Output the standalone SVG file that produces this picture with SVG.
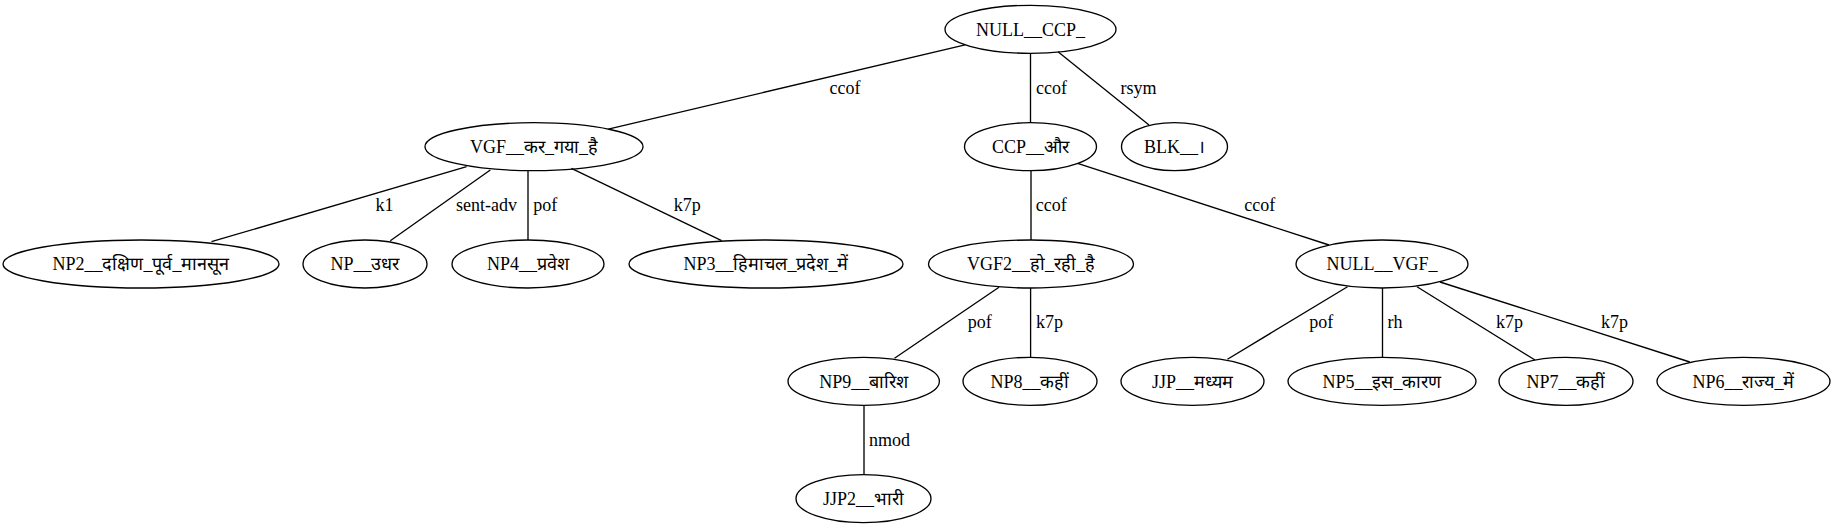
<svg xmlns="http://www.w3.org/2000/svg" width="1835" height="528" viewBox="0 0 1835 528">
<style>
  .node ellipse { fill: none; stroke: #000; stroke-width: 1.33; }
  text { font-family: "Liberation Serif", "DejaVu Serif", "Times New Roman", serif; font-size: 18px; text-anchor: middle; fill: #000; }
  .edges line { stroke: #000; stroke-width: 1.33; }
</style>
<rect width="1835" height="528" fill="#fff"/>
<g id="connectors" class="edges">
  <line x1="965.1" y1="44.8" x2="608.3" y2="129.1"/>
  <text x="845" y="94">ccof</text>
  <line x1="1030.5" y1="53.3" x2="1030.5" y2="122.7"/>
  <text x="1051.5" y="94">ccof</text>
  <line x1="1058" y1="51.7" x2="1149" y2="125"/>
  <text x="1138.5" y="94">rsym</text>
  <line x1="466.6" y1="166.7" x2="211.5" y2="241.7"/>
  <text x="384.5" y="211">k1</text>
  <line x1="490.3" y1="170" x2="390.3" y2="240.7"/>
  <text x="486.4" y="211">sent-adv</text>
  <line x1="528" y1="170.7" x2="528" y2="240"/>
  <text x="545.3" y="211">pof</text>
  <line x1="571.4" y1="168.3" x2="721.6" y2="240.7"/>
  <text x="687.3" y="211">k7p</text>
  <line x1="1031" y1="170.7" x2="1031" y2="240"/>
  <text x="1051.3" y="211">ccof</text>
  <line x1="1077.6" y1="163.3" x2="1329" y2="245"/>
  <text x="1259.7" y="211">ccof</text>
  <line x1="999" y1="287.3" x2="894.5" y2="358.3"/>
  <text x="979.8" y="328">pof</text>
  <line x1="1030.6" y1="288" x2="1030.6" y2="357.3"/>
  <text x="1049.4" y="328">k7p</text>
  <line x1="1347.5" y1="286.7" x2="1227.5" y2="359.3"/>
  <text x="1321.3" y="328">pof</text>
  <line x1="1382.5" y1="288" x2="1382.5" y2="357.3"/>
  <text x="1395" y="328">rh</text>
  <line x1="1417" y1="286.7" x2="1535" y2="360"/>
  <text x="1509.5" y="328">k7p</text>
  <line x1="1440" y1="282" x2="1689.8" y2="362"/>
  <text x="1614.4" y="328">k7p</text>
  <line x1="864" y1="405.3" x2="864" y2="474.7"/>
  <text x="889.6" y="446">nmod</text>
</g>
<g id="n_null_ccp" class="node"><ellipse cx="1030.5" cy="29.3" rx="85.5" ry="24"/><text x="1030.5" y="35.5">NULL__CCP_</text></g>
<g id="n_vgf" class="node"><ellipse cx="534" cy="146.7" rx="109" ry="24"/><text x="534" y="152.9">VGF__कर_गया_है</text></g>
<g id="n_ccp" class="node"><ellipse cx="1030.5" cy="146.7" rx="66" ry="24"/><text x="1030.5" y="152.9">CCP__और</text></g>
<g id="n_blk" class="node"><ellipse cx="1174.5" cy="146.7" rx="53" ry="24"/><text x="1174.5" y="152.9">BLK__।</text></g>
<g id="n_np2" class="node"><ellipse cx="141" cy="264" rx="138" ry="24"/><text x="141" y="270.2">NP2__दक्षिण_पूर्व_मानसून</text></g>
<g id="n_np" class="node"><ellipse cx="365" cy="264" rx="62" ry="24"/><text x="365" y="270.2">NP__उधर</text></g>
<g id="n_np4" class="node"><ellipse cx="528" cy="264" rx="76" ry="24"/><text x="528" y="270.2">NP4__प्रवेश</text></g>
<g id="n_np3" class="node"><ellipse cx="766" cy="264" rx="137" ry="24"/><text x="766" y="270.2">NP3__हिमाचल_प्रदेश_में</text></g>
<g id="n_vgf2" class="node"><ellipse cx="1031" cy="264" rx="102.5" ry="24"/><text x="1031" y="270.2">VGF2__हो_रही_है</text></g>
<g id="n_null_vgf" class="node"><ellipse cx="1382" cy="264" rx="86" ry="24"/><text x="1382" y="270.2">NULL__VGF_</text></g>
<g id="n_np9" class="node"><ellipse cx="863.7" cy="381.3" rx="75.7" ry="24"/><text x="863.7" y="387.5">NP9__बारिश</text></g>
<g id="n_np8" class="node"><ellipse cx="1030" cy="381.3" rx="67" ry="24"/><text x="1030" y="387.5">NP8__कहीं</text></g>
<g id="n_jjp" class="node"><ellipse cx="1192.5" cy="381.3" rx="71.5" ry="24"/><text x="1192.5" y="387.5">JJP__मध्यम</text></g>
<g id="n_np5" class="node"><ellipse cx="1382" cy="381.3" rx="94" ry="24"/><text x="1382" y="387.5">NP5__इस_कारण</text></g>
<g id="n_np7" class="node"><ellipse cx="1566" cy="381.3" rx="67" ry="24"/><text x="1566" y="387.5">NP7__कहीं</text></g>
<g id="n_np6" class="node"><ellipse cx="1743.5" cy="381.3" rx="86.5" ry="24"/><text x="1743.5" y="387.5">NP6__राज्य_में</text></g>
<g id="n_jjp2" class="node"><ellipse cx="863.5" cy="498.7" rx="67.5" ry="24"/><text x="863.5" y="504.9">JJP2__भारी</text></g>
</svg>
